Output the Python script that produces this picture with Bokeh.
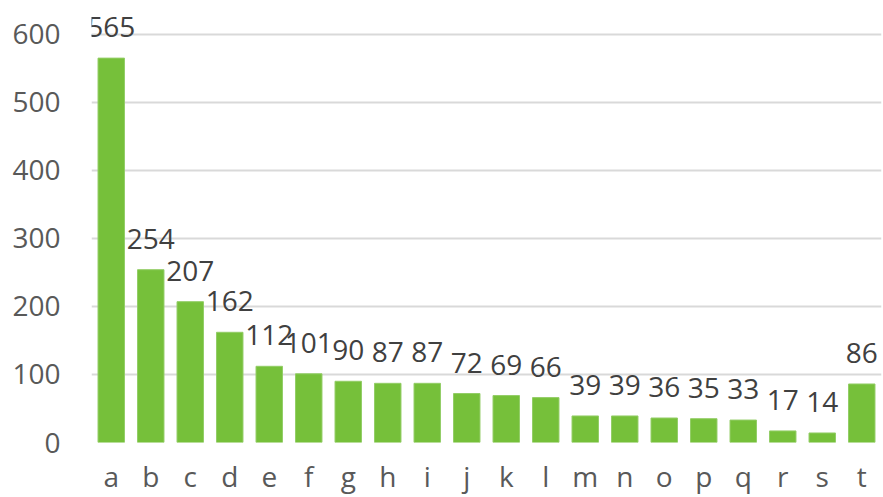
from bokeh.plotting import figure
from bokeh.models import ColumnDataSource, FactorRange, Range1d, FixedTicker, LabelSet
from bokeh.core.properties import value
from bokeh.embed import file_html
from bokeh.resources import INLINE

categories = ["a", "b", "c", "d", "e", "f", "g", "h", "i", "j",
              "k", "l", "m", "n", "o", "p", "q", "r", "s", "t"]
values = [565, 254, 207, 162, 112, 101, 90, 87, 87, 72,
          69, 66, 39, 39, 36, 35, 33, 17, 14, 86]
y_ticks = [0, 100, 200, 300, 400, 500, 600]

FONT = "Open Sans"
TEXT_COLOR = "#595959"
BAR_COLOR = "#76C03A"

src = ColumnDataSource(dict(cat=categories, val=values, label=[str(v) for v in values]))

p = figure(x_range=FactorRange(*categories), y_range=Range1d(0, 635),
           width=883, height=497, output_backend="svg", toolbar_location=None,
           min_border_left=91, min_border_right=2, min_border_top=10, min_border_bottom=55)
p.outline_line_color = None
p.background_fill_color = "white"
p.border_fill_color = "white"

p.xgrid.grid_line_color = None
p.ygrid.grid_line_color = "#D9D9D9"
p.ygrid.grid_line_width = 2

p.yaxis.ticker = FixedTicker(ticks=y_ticks)
for ax in (p.xaxis, p.yaxis):
    ax.axis_line_color = None
    ax.major_tick_line_color = None
    ax.minor_tick_line_color = None
    ax.major_tick_in = 0
    ax.major_tick_out = 0
    ax.major_label_text_font = FONT
    ax.major_label_text_font_size = "28px"
    ax.major_label_text_color = TEXT_COLOR
p.yaxis.major_label_standoff = 31
p.xaxis.major_label_standoff = 14

p.vbar(x="cat", top="val", width=0.67, source=src,
       fill_color=BAR_COLOR, line_color="#93CD66", line_width=1)

labels = LabelSet(x="cat", y="val", text="label", source=src,
                  text_align="center", text_baseline="alphabetic", y_offset=21,
                  text_font=value(FONT), text_font_size="28px", text_color="#404040")
p.add_layout(labels)

open("out.html", "w").write(file_html(p, INLINE))
